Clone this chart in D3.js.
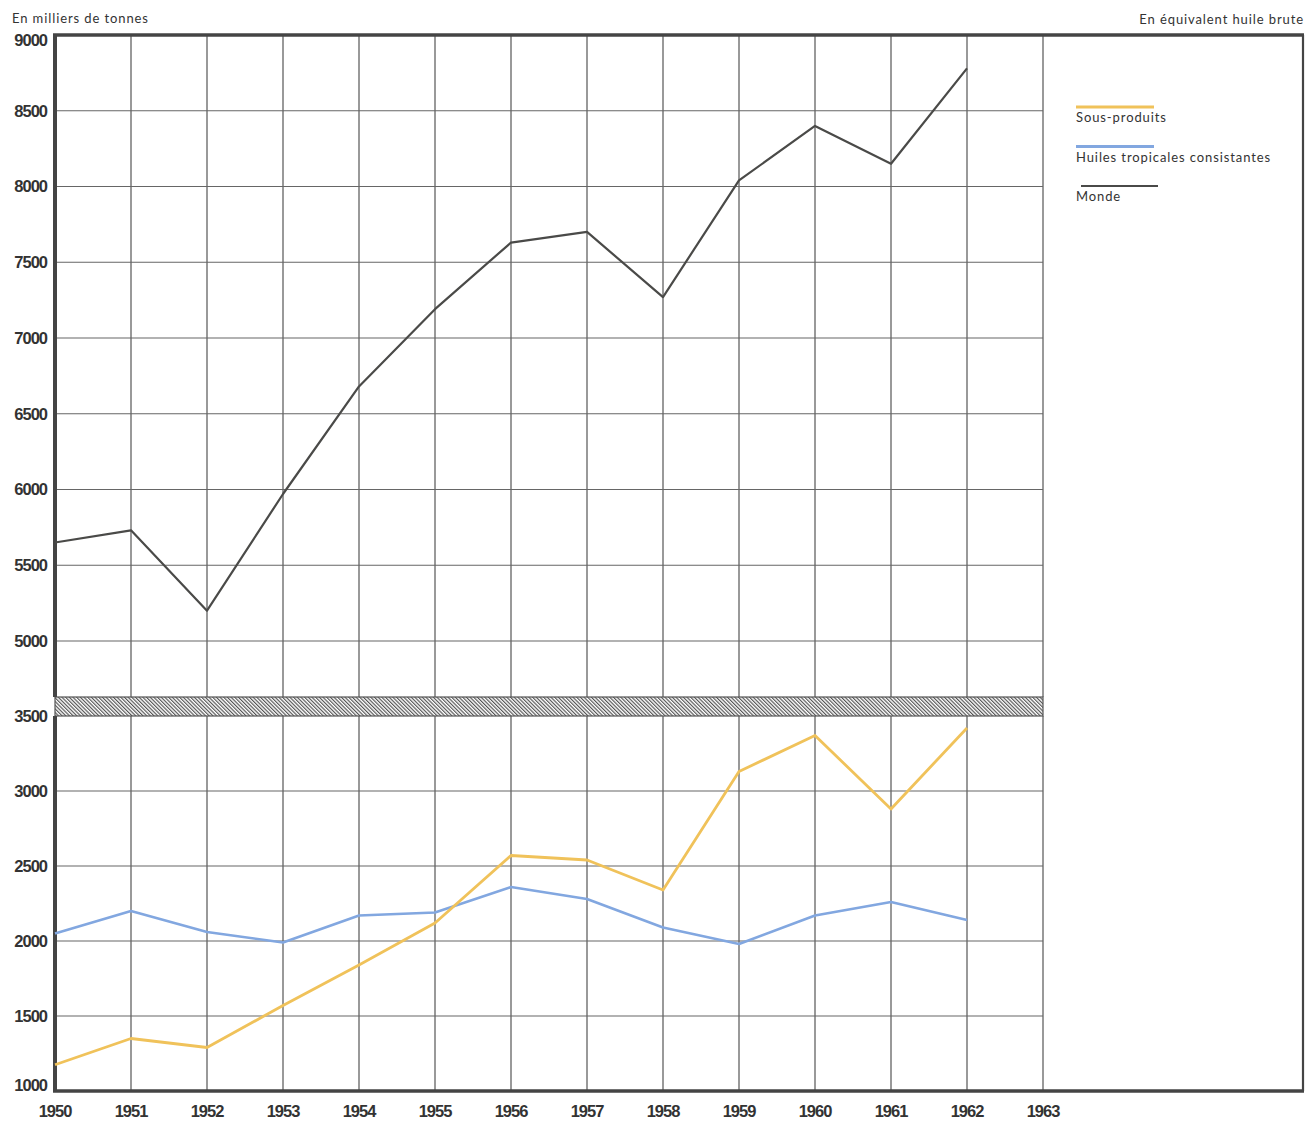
<!DOCTYPE html>
<html>
<head>
<meta charset="utf-8">
<script src="https://cdn.jsdelivr.net/npm/d3@7"></script>
<style>
  body { margin: 0; background: #fff; }
  .tick-lbl { font-family: "Liberation Sans", Arial, sans-serif; font-weight: bold; font-size: 16.5px; fill: #333; letter-spacing: -1px; }
  .note { font-family: Lato, "Open Sans", sans-serif; font-size: 13px; fill: #333; letter-spacing: 0.9px; }
</style>
</head>
<body>
<div id="chart"></div>
<script>
// data
var years = [1950, 1951, 1952, 1953, 1954, 1955, 1956, 1957, 1958, 1959, 1960, 1961, 1962];
var monde = [5650, 5730, 5200, 5970, 6680, 7190, 7630, 7700, 7270, 8040, 8400, 8150, 8780];
var sousProduits = [1175, 1350, 1290, 1570, 1840, 2120, 2570, 2540, 2340, 3130, 3370, 2880, 3420];
var huilesTropicales = [2050, 2200, 2060, 1990, 2170, 2190, 2360, 2280, 2090, 1980, 2170, 2260, 2140];
var xTicks = [1950, 1951, 1952, 1953, 1954, 1955, 1956, 1957, 1958, 1959, 1960, 1961, 1962, 1963];
var topTicks = [9000, 8500, 8000, 7500, 7000, 6500, 6000, 5500, 5000];
var bottomTicks = [3500, 3000, 2500, 2000, 1500, 1000];
var legendNames = ["Sous-produits", "Huiles tropicales consistantes", "Monde"];

var width = 1305,
  height = 1121;

var left = 55, gridRight = 1043, frameRight = 1303;
var topY = 35, breakTop = 697, breakBottom = 716, bottomY = 1091;

var colors = { sous: "#f0c25a", huiles: "#82a7e0", monde: "#4a4a48" };
var gridColor = "#555";

var svg = d3.select("#chart")
  .append("svg")
  .attr("width", width)
  .attr("height", height);

var x = d3.scaleLinear().domain([1950, 1963]).range([left, gridRight]);
var yTop = d3.scaleLinear().domain([4630, 9000]).range([breakTop, topY]);
var yBot = d3.scaleLinear().domain([1000, 3500]).range([bottomY, breakBottom]);

// hatch pattern for the axis break
var defs = svg.append("defs");
defs.append("pattern")
  .attr("id", "hatch")
  .attr("patternUnits", "userSpaceOnUse")
  .attr("width", 2.6)
  .attr("height", 10)
  .attr("patternTransform", "rotate(-45)")
  .append("line")
  .attr("x1", 0.6).attr("y1", 0)
  .attr("x2", 0.6).attr("y2", 10)
  .attr("stroke", "#4a4a4a")
  .attr("stroke-width", 1.1);

svg.append("rect")
  .attr("x", left)
  .attr("y", breakTop)
  .attr("width", gridRight - left)
  .attr("height", breakBottom - breakTop)
  .attr("fill", "url(#hatch)")
  .attr("stroke", gridColor)
  .attr("stroke-width", 1.2);

// vertical grid lines, both panels
var grid = svg.append("g");
[[topY, breakTop], [breakBottom, bottomY]].forEach(function (span) {
  grid.selectAll(null)
    .data(xTicks.slice(1))
    .enter().append("line")
    .attr("x1", function (d) { return x(d); })
    .attr("x2", function (d) { return x(d); })
    .attr("y1", span[0])
    .attr("y2", span[1])
    .attr("stroke", gridColor)
    .attr("stroke-width", 1.2);
});

// horizontal grid lines
grid.selectAll(null)
  .data(topTicks.slice(1))
  .enter().append("line")
  .attr("x1", left).attr("x2", gridRight)
  .attr("y1", function (d) { return yTop(d); })
  .attr("y2", function (d) { return yTop(d); })
  .attr("stroke", "#666")
  .attr("stroke-width", 1.1);

grid.selectAll(null)
  .data(bottomTicks.slice(1, -1))
  .enter().append("line")
  .attr("x1", left).attr("x2", gridRight)
  .attr("y1", function (d) { return yBot(d); })
  .attr("y2", function (d) { return yBot(d); })
  .attr("stroke", "#666")
  .attr("stroke-width", 1.1);

// frame
var frame = svg.append("g").attr("stroke", "#444").attr("fill", "none");
frame.append("line").attr("x1", left - 2).attr("x2", frameRight + 1).attr("y1", topY).attr("y2", topY).attr("stroke-width", 3.5);
frame.append("line").attr("x1", left).attr("x2", left).attr("y1", topY).attr("y2", breakTop).attr("stroke-width", 4);
frame.append("line").attr("x1", left).attr("x2", left).attr("y1", breakBottom).attr("y2", bottomY).attr("stroke-width", 4);
frame.append("line").attr("x1", left - 2).attr("x2", frameRight + 1).attr("y1", bottomY).attr("y2", bottomY).attr("stroke-width", 3.5);
frame.append("line").attr("x1", frameRight).attr("x2", frameRight).attr("y1", topY).attr("y2", bottomY).attr("stroke-width", 2.2);

// y labels, kept inside their panel
function yLabels(ticks, scale, lo, hi) {
  svg.selectAll(null)
    .data(ticks)
    .enter().append("text")
    .attr("class", "tick-lbl")
    .attr("text-anchor", "end")
    .attr("x", left - 8)
    .attr("y", function (d) { return Math.max(lo, Math.min(hi, scale(d))); })
    .attr("dy", "0.36em")
    .text(function (d) { return d; });
}
yLabels(topTicks, yTop, topY + 5, breakTop);
yLabels(bottomTicks, yBot, breakBottom, bottomY - 6);

svg.selectAll(null)
  .data(xTicks)
  .enter().append("text")
  .attr("class", "tick-lbl")
  .attr("text-anchor", "middle")
  .attr("x", function (d) { return x(d); })
  .attr("y", 1117)
  .text(function (d) { return d; });

// notes
svg.append("text").attr("class", "note").attr("x", 12).attr("y", 23).text("En milliers de tonnes");
svg.append("text").attr("class", "note").attr("text-anchor", "end").attr("x", 1304).attr("y", 24).text("En équivalent huile brute");

// series
function drawLine(values, scale, color, w) {
  var line = d3.line()
    .x(function (d, i) { return x(years[i]); })
    .y(function (d) { return scale(d); });
  svg.append("path")
    .datum(values)
    .attr("d", line)
    .attr("fill", "none")
    .attr("stroke", color)
    .attr("stroke-width", w)
    .attr("stroke-linejoin", "round");
}
drawLine(huilesTropicales, yBot, colors.huiles, 2.6);
drawLine(sousProduits, yBot, colors.sous, 2.8);
drawLine(monde, yTop, colors.monde, 2.2);

// legend
var legendColors = [colors.sous, colors.huiles, colors.monde];
var legend = svg.selectAll(".legend")
  .data(legendNames)
  .enter().append("g")
  .attr("class", "legend")
  .attr("transform", function (d, i) { return "translate(1076," + (107 + i * 39.5) + ")"; });

legend.append("line")
  .attr("x1", function (d, i) { return i === 2 ? 5 : 0; })
  .attr("x2", function (d, i) { return i === 2 ? 82 : 78; })
  .attr("y1", 0).attr("y2", 0)
  .attr("stroke", function (d, i) { return legendColors[i]; })
  .attr("stroke-width", function (d, i) { return i === 2 ? 2 : 3; });

legend.append("text")
  .attr("class", "note")
  .attr("x", 0)
  .attr("y", 15)
  .text(function (d) { return d; });
</script>
</body>
</html>
